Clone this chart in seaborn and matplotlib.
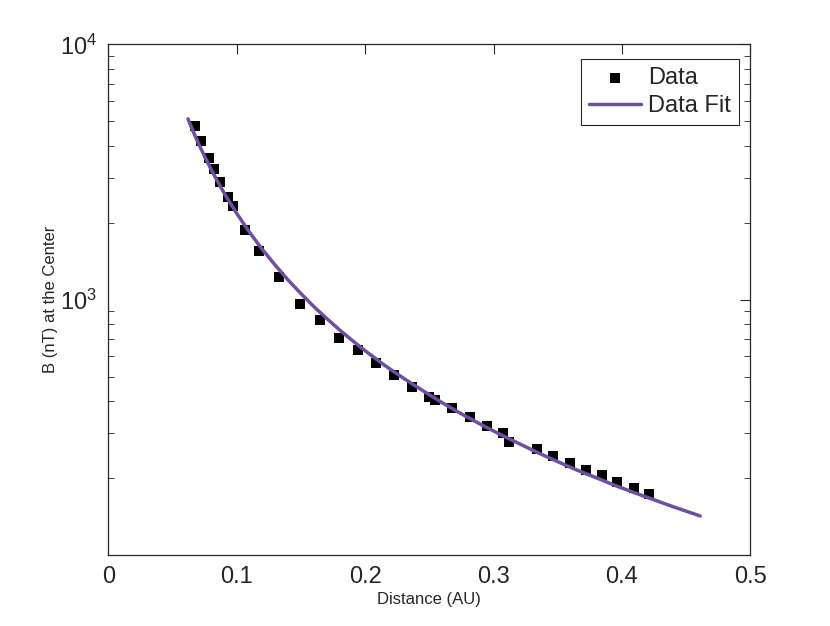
import matplotlib
matplotlib.use("Agg")
import matplotlib.pyplot as plt
import seaborn as sns
import pandas as pd
from matplotlib.ticker import FixedLocator, LogLocator, NullFormatter

# Data
distance = [0.0677, 0.0722, 0.0784, 0.0821, 0.0872, 0.0930, 0.0969, 0.1067,
            0.1176, 0.1332, 0.1493, 0.1649, 0.1799, 0.1947, 0.2085, 0.2225,
            0.2365, 0.2498, 0.2544, 0.2680, 0.2817, 0.2947, 0.3071, 0.3121,
            0.3336, 0.3461, 0.3596, 0.3720, 0.3843, 0.3964, 0.4094, 0.4213]
field = [4792, 4198, 3580, 3253, 2877, 2535, 2317, 1878,
         1555, 1230, 962, 830, 708, 633, 565, 506,
         456, 416, 406, 375, 348, 321, 301, 277,
         259, 244, 230, 216, 205, 193, 183, 173]

fit_distance = [0.062, 0.066, 0.070, 0.075, 0.080, 0.085, 0.090, 0.095, 0.100,
                0.110, 0.120, 0.130, 0.140, 0.150, 0.160, 0.170, 0.180, 0.190,
                0.200, 0.215, 0.230, 0.245, 0.260, 0.275, 0.290, 0.305, 0.320,
                0.335, 0.350, 0.365, 0.380, 0.395, 0.410, 0.425, 0.440, 0.461]
fit_field = [5105, 4570, 4111, 3640, 3240, 2910, 2625, 2385, 2177,
             1835, 1572, 1365, 1194, 1057, 940, 845, 762, 692,
             631, 554, 492, 440, 395, 357, 325, 297, 273,
             251, 232, 215, 200.7, 187, 175.2, 164.5, 154.5, 142.2]

x_ticks = [0, 0.1, 0.2, 0.3, 0.4, 0.5]
x_tick_labels = ["0", "0.1", "0.2", "0.3", "0.4", "0.5"]
y_ticks = [1000, 10000]
y_tick_labels = [r"$\mathregular{10^{3}}$", r"$\mathregular{10^{4}}$"]

df = pd.DataFrame({"Distance": distance, "B": field})
df_fit = pd.DataFrame({"Distance": fit_distance, "B": fit_field})

sns.set_style("white")
plt.rcParams["font.family"] = ["Liberation Sans", "DejaVu Sans"]

fig = plt.figure(figsize=(8.3, 6.26), dpi=100)
ax = fig.add_axes([0.1305, 0.1134, 0.7735, 0.8158])

sns.scatterplot(data=df, x="Distance", y="B", ax=ax, marker="s", s=55,
                color="black", edgecolor="black", linewidth=0, label="Data",
                zorder=3)
sns.lineplot(data=df_fit, x="Distance", y="B", ax=ax, sort=False,
             estimator=None, color="#6f4f9f", linewidth=2.5, label="Data Fit",
             zorder=4)

ax.set_yscale("log")
ax.set_xlim(0, 0.5)
ax.set_ylim(100, 10000)
ax.set_xticks(x_ticks)
ax.set_xticklabels(x_tick_labels)
ax.yaxis.set_major_locator(FixedLocator(y_ticks))
ax.set_yticklabels(y_tick_labels)
ax.yaxis.set_minor_locator(LogLocator(base=10, subs=range(2, 10)))
ax.yaxis.set_minor_formatter(NullFormatter())

ax.tick_params(axis="both", which="major", direction="in", length=7, width=0.8,
               labelsize=17, top=True, right=True, color="#262626", pad=8)
ax.tick_params(axis="y", which="minor", direction="in", length=4, width=0.6,
               left=True, right=True, color="#262626")
for sp in ax.spines.values():
    sp.set_color("#262626")
    sp.set_linewidth(0.9)

ax.set_xlabel("Distance (AU)", fontsize=12, labelpad=3)
ax.set_ylabel("B (nT) at the Center", fontsize=12, labelpad=1.5)

leg = ax.legend(loc="upper right", bbox_to_anchor=(0.9824, 0.9712),
                fontsize=17, frameon=True, fancybox=False,
                edgecolor="#262626", framealpha=1, borderaxespad=0,
                handlelength=2.2, borderpad=0.35, labelspacing=0.25,
                handletextpad=0.3)
leg.get_frame().set_linewidth(0.8)

fig.savefig("out.png", dpi=100)
